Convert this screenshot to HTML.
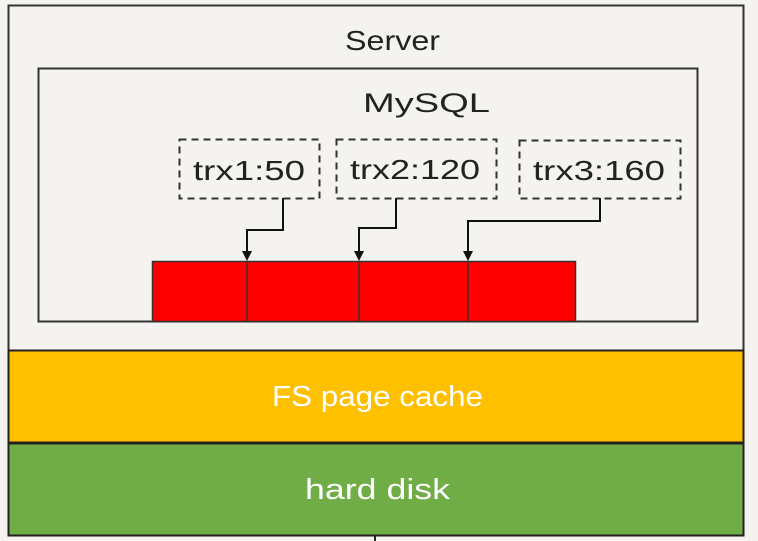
<!DOCTYPE html>
<html><head><style>
html,body{margin:0;padding:0;background:#f4f3ef;width:758px;height:541px;overflow:hidden}
</style></head><body>
<svg width="758" height="541" xmlns="http://www.w3.org/2000/svg" font-family="Liberation Sans, sans-serif">
<rect x="0" y="0" width="758" height="541" fill="#f4f3ef"/>
<rect x="8.5" y="5.5" width="735" height="530" fill="#f4f3ef" stroke="#333" stroke-width="2"/>
<text x="345" y="50" font-size="28" textLength="95" lengthAdjust="spacingAndGlyphs" fill="#222">Server</text>
<rect x="38.5" y="68.5" width="659" height="253" fill="#f4f3ef" stroke="#333" stroke-width="2"/>
<text x="363" y="112" font-size="27" textLength="127" lengthAdjust="spacingAndGlyphs" fill="#222">MySQL</text>
<g fill="none" stroke="#333" stroke-width="2" stroke-dasharray="7,5">
<rect x="179.5" y="139.5" width="140" height="59"/>
<rect x="336.5" y="139.5" width="160" height="59"/>
<rect x="519.5" y="140.5" width="161" height="58"/>
</g>
<g font-size="28" fill="#222" lengthAdjust="spacingAndGlyphs">
<text x="193" y="180" textLength="112" lengthAdjust="spacingAndGlyphs">trx1:50</text>
<text x="350" y="179" textLength="130" lengthAdjust="spacingAndGlyphs">trx2:120</text>
<text x="533" y="180" textLength="132" lengthAdjust="spacingAndGlyphs">trx3:160</text>
</g>
<rect x="152.5" y="261.5" width="423" height="60" fill="#ff0000" stroke="#333" stroke-width="1.5"/>
<g stroke="#333" stroke-width="1.5">
<line x1="247" y1="261" x2="247" y2="321"/>
<line x1="359" y1="261" x2="359" y2="321"/>
<line x1="468" y1="261" x2="468" y2="321"/>
</g>
<g fill="none" stroke="#111" stroke-width="2">
<polyline points="283,198 283,230 247,230 247,252"/>
<polyline points="396,198 396,228 359,228 359,252"/>
<polyline points="600,198 600,221 468,221 468,252"/>
</g>
<g fill="#111">
<polygon points="242,251 252,251 247,261"/>
<polygon points="354,251 364,251 359,261"/>
<polygon points="463,251 473,251 468,261"/>
</g>
<rect x="8.5" y="350.5" width="735" height="92" fill="#ffc000" stroke="#222" stroke-width="2"/>
<text x="272" y="406" font-size="29" textLength="211" lengthAdjust="spacingAndGlyphs" fill="#fff">FS page cache</text>
<rect x="8.5" y="443.5" width="735" height="92" fill="#70ad47" stroke="#222" stroke-width="2"/>
<text x="305" y="499" font-size="29" textLength="145" lengthAdjust="spacingAndGlyphs" fill="#fff">hard disk</text>
<line x1="375" y1="535" x2="375" y2="541" stroke="#222" stroke-width="2"/>
</svg>
</body></html>
